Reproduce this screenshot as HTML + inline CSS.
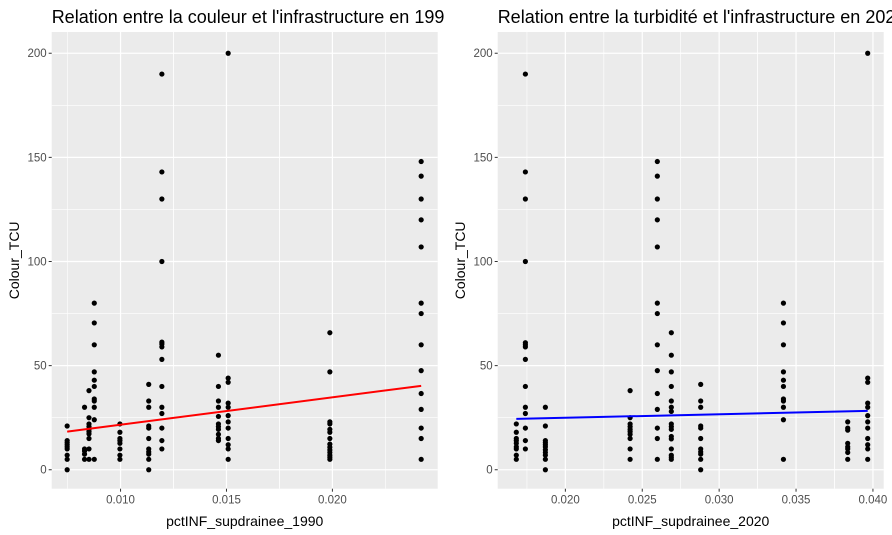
<!DOCTYPE html>
<html><head><meta charset="utf-8"><style>
body{margin:0;background:#fff;}
svg{display:block;font-family:"Liberation Sans",Arial,sans-serif;}
</style></head><body>
<svg id="chart" width="892" height="535" viewBox="0 0 892 535"></svg>
<script>
// ---- Left panel data (1990) ----
const xs1990 = [0.00748,0.0083,0.00851,0.00876,0.00997,0.01133,0.01195,0.01462,0.01508,0.01988,0.02419];
const ys1990 = [
 [21,14,13,12,11,10,7,5,0],
 [30,10,9,7.5,5],
 [38,25,22,20.7,19.4,18.3,17.2,15,10,5],
 [80,70.5,60,47,43,40,34,33,30,24,5],
 [22,18,15,14,12.7,10,7,5],
 [41,33,30,21,20,15,10,8.6,7.5,5,0],
 [190,143,130,100,61.3,60.4,59,53,40,30,27,20,14,10],
 [55,40,33,30,25.6,22,20.7,19.4,17,15,14],
 [200,44,42,32,30,26,23,20,15,12,10,5],
 [65.8,47,23,22,19.4,18,15,12.3,10.8,9.5,8.3,7,6,5],
 [148,141,130,120,107,80,75,60,47.6,36.6,29,20,15,5]
];
const fit1990 = [18.3, 40.3];
const xTicks1990 = [0.010,0.015,0.020];
const xTickLabels1990 = ["0.010","0.015","0.020"];
// ---- Right panel data (2020) ----
const xs2020 = [0.01681,0.0174,0.0187,0.02421,0.02598,0.02689,0.0288,0.03418,0.03836,0.03966];
const ys2020 = [
 [22,18,15,14,12.7,11,10,7,5],
 [190,143,130,100,61,60,59,53,40,30,27,20,14,10],
 [30,21,14,13,12,11,9.6,8.3,7,5,0],
 [38,25,22,20.7,19.4,18.3,17,15,10,5],
 [148,141,130,120,107,80,75,60,47.6,36.6,29,20,15,5],
 [65.8,55,47,40,33,30,28,22,20.7,19.4,16,14.8,10,7,6,5],
 [41,33,30,21,20,15,10,8.6,7.5,5,0],
 [80,70.5,60,47,43,40,34,33,30,24,5],
 [23,20,19,12.7,11,10,8.3,5],
 [200,44,42,32,30,26,23,20,15,12,10,5]
];
const fit2020 = [24.4, 28.3];
const xTicks2020 = [0.020,0.025,0.030,0.035,0.040];
const xTickLabels2020 = ["0.020","0.025","0.030","0.035","0.040"];
const yTicks = [0,50,100,150,200];
const yTickLabels = ["0","50","100","150","200"];

const NS="http://www.w3.org/2000/svg";
const svg=document.getElementById('chart');
function mk(tag,attrs,parent){const e=document.createElementNS(NS,tag);for(const k in attrs)e.setAttribute(k,attrs[k]);(parent||svg).appendChild(e);return e;}

function panel(o){
  const g=mk('g',{});
  
  
  const L=o.left,R=o.right,T=32,B=488.7;
  const xS=v=>L+(v-o.xmin)/(o.xmax-o.xmin)*(R-L);
  const yS=v=>B-(v-(-9.1))/(210.2+9.1)*(B-T);
  const bg=mk('rect',{x:L,y:T,width:R-L,height:B-T,fill:'#ebebeb'},g);
  
  
  // minor grid
  for(let i=0;i<yTicks.length-1;i++){const v=(yTicks[i]+yTicks[i+1])/2;mk('line',{x1:L,x2:R,y1:yS(v),y2:yS(v),stroke:'#fff','stroke-width':0.6},g);}
  for(let i=0;i<o.xt.length;i++){
    const step=o.xt.length>1?o.xt[1]-o.xt[0]:0.005;
    [o.xt[i]-step/2,o.xt[i]+step/2].forEach(v=>{if(v>o.xmin&&v<o.xmax){mk('line',{x1:xS(v),x2:xS(v),y1:T,y2:B,stroke:'#fff','stroke-width':0.6},g);}});
  }
  // major grid + ticks
  yTicks.forEach((v,i)=>{
    const y=yS(v);
    mk('line',{x1:L,x2:R,y1:y,y2:y,stroke:'#fff','stroke-width':1.2},g);
    mk('line',{x1:L-3,x2:L,y1:y,y2:y,stroke:'#333','stroke-width':1},g);
    const t=mk('text',{x:L-5,y:y+4,'text-anchor':'end','font-size':11.5,fill:'#4d4d4d'},g);
    t.textContent=yTickLabels[i];
    
    
  });
  o.xt.forEach((v,i)=>{
    const x=xS(v);
    mk('line',{x1:x,x2:x,y1:T,y2:B,stroke:'#fff','stroke-width':1.2},g);
    mk('line',{x1:x,x2:x,y1:B,y2:B+3,stroke:'#333','stroke-width':1},g);
    const t=mk('text',{x:x,y:B+15,'text-anchor':'middle','font-size':11.5,fill:'#4d4d4d'},g);
    t.textContent=o.xl[i];
    
    
  });
  // points
  o.xs.forEach((xv,i)=>{
    o.ys[i].forEach(yv=>{
      const c=mk('circle',{cx:xS(xv),cy:yS(yv),r:2.6,fill:'#000'},g);
      
      
    });
  });
  // fit line
  const x0=o.xs[0],x1=o.xs[o.xs.length-1];
  const ln=mk('line',{x1:xS(x0),y1:yS(o.fit[0]),x2:xS(x1),y2:yS(o.fit[1]),stroke:o.color,'stroke-width':2},g);
  
  
  // titles
  const tt=mk('text',{x:L,y:23,'font-size':18,fill:'#000'},g);
  tt.textContent=o.title;
  
  
  const xt=mk('text',{x:(L+R)/2,y:526,'text-anchor':'middle','font-size':14,fill:'#000'},g);
  xt.textContent=o.xtitle;
  
  
  const cy=(T+B)/2;
  const yt=mk('text',{x:o.ytx,y:cy,'text-anchor':'middle','font-size':14,fill:'#000',transform:'rotate(-90 '+o.ytx+' '+cy+')'},g);
  yt.textContent='Colour_TCU';
  
  
}
panel({name:'panel-1990',left:51.7,right:437.7,xmin:0.00675,xmax:0.02497,xs:xs1990,ys:ys1990,fit:fit1990,xt:xTicks1990,xl:xTickLabels1990,color:'#ff0000',
  title:"Relation entre la couleur et l'infrastructure en 1990",xtitle:'pctINF_supdrainee_1990',ytx:19});
// white mask to clip left title overflow
const m=mk('rect',{x:445,y:0,width:50,height:30,fill:'#fff'});


panel({name:'panel-2020',left:497.7,right:883.7,xmin:0.0156,xmax:0.0407,xs:xs2020,ys:ys2020,fit:fit2020,xt:xTicks2020,xl:xTickLabels2020,color:'#0000ff',
  title:"Relation entre la turbidité et l'infrastructure en 2020",xtitle:'pctINF_supdrainee_2020',ytx:465});
</script>
</body></html>
